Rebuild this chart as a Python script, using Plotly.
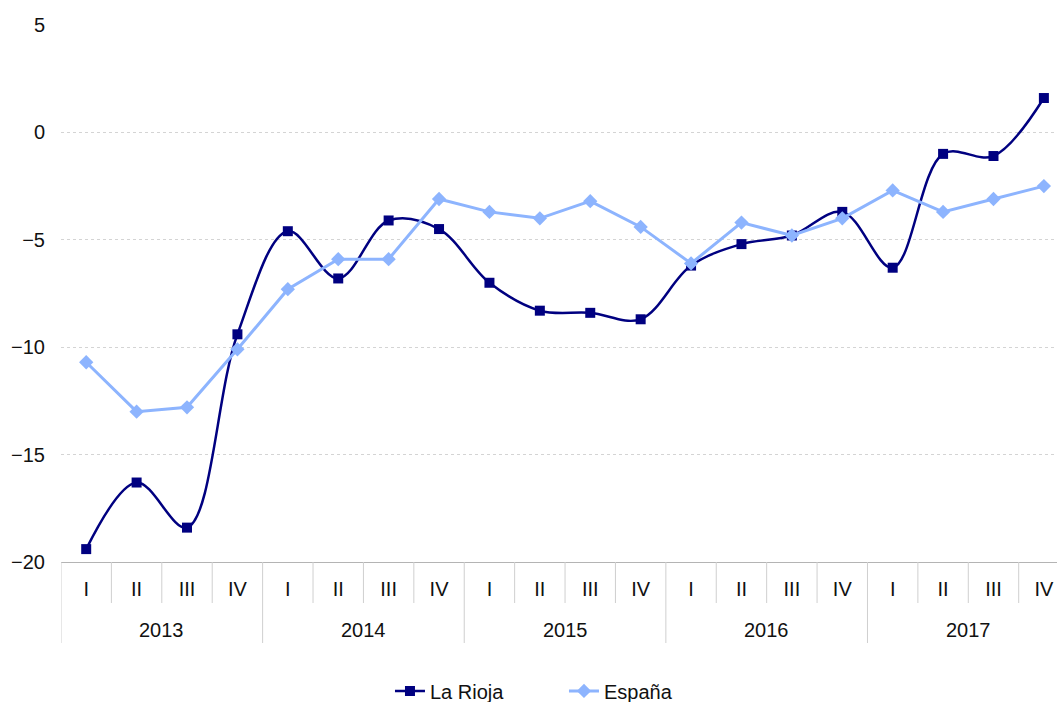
import plotly.graph_objects as go

years = ["2013", "2014", "2015", "2016", "2017"]
quarters = ["I", "II", "III", "IV"]
tick_labels = quarters * len(years)

la_rioja = [-19.4, -16.3, -18.4, -9.4,
            -4.6, -6.8, -4.1, -4.5,
            -7.0, -8.3, -8.4, -8.7,
            -6.2, -5.2, -4.8, -3.7,
            -6.3, -1.0, -1.1, 1.6]
espana = [-10.7, -13.0, -12.8, -10.1,
          -7.3, -5.9, -5.9, -3.1,
          -3.7, -4.0, -3.2, -4.4,
          -6.1, -4.2, -4.8, -4.0,
          -2.7, -3.7, -3.1, -2.5]

x = list(range(len(tick_labels)))
FONT = "Liberation Sans, Arial, Helvetica, sans-serif"
TXT = "#111111"

fig = go.Figure()
fig.add_trace(go.Scatter(
    x=x, y=la_rioja, name="La Rioja", mode="lines+markers",
    line=dict(color="#000080", width=2.5, shape="spline", smoothing=1),
    marker=dict(symbol="square", size=10, color="#000080"),
))
fig.add_trace(go.Scatter(
    x=x, y=espana, name="España", mode="lines+markers",
    line=dict(color="#8db4fe", width=3),
    marker=dict(symbol="diamond", size=11, color="#8db4fe"),
))

shapes = []
for i in range(len(tick_labels)):
    b = i - 0.5
    is_year = (i % 4 == 0)
    shapes.append(dict(
        type="line", xref="x", yref="paper", ysizemode="pixel", yanchor=0,
        x0=b, x1=b, y0=0, y1=-81 if is_year else -41,
        line=dict(color="#cfcfcf", width=1),
    ))

annotations = []
for k, yr in enumerate(years):
    annotations.append(dict(
        x=4 * k + 1.5, y=0, xref="x", yref="paper", text=yr, showarrow=False,
        yanchor="middle", yshift=-68, font=dict(size=20, color=TXT, family=FONT),
    ))

fig.update_layout(
    width=1057, height=702,
    margin=dict(l=61, r=0, t=25, b=140, autoexpand=False),
    paper_bgcolor="white", plot_bgcolor="white",
    font=dict(family=FONT, size=20, color=TXT),
    showlegend=True,
    legend=dict(orientation="h", x=0.505, xanchor="center", y=-0.24, yanchor="middle",
                font=dict(size=20, family=FONT, color=TXT),
                entrywidth=129, entrywidthmode="pixels"),
    shapes=shapes,
    annotations=annotations,
)
fig.update_xaxes(
    range=[-0.5, 19.26], tickvals=x, ticktext=tick_labels, automargin=False,
    showgrid=False, zeroline=False, showline=True, linecolor="#b4b4b4", linewidth=1,
    ticks="", ticklabelstandoff=9, tickfont=dict(size=20, family=FONT, color=TXT),
)
fig.update_yaxes(
    range=[-20, 5], dtick=5, tick0=0, automargin=False,
    showgrid=True, gridcolor="#d4d4d4", griddash="dot", gridwidth=1,
    zeroline=False, showline=False, ticks="", ticklabelstandoff=15,
    tickfont=dict(size=20, family=FONT, color=TXT),
)

fig.write_html(
    "out.html",
    config={"displayModeBar": False},
    post_script="document.body.style.margin='0';document.body.style.padding='0';",
)
